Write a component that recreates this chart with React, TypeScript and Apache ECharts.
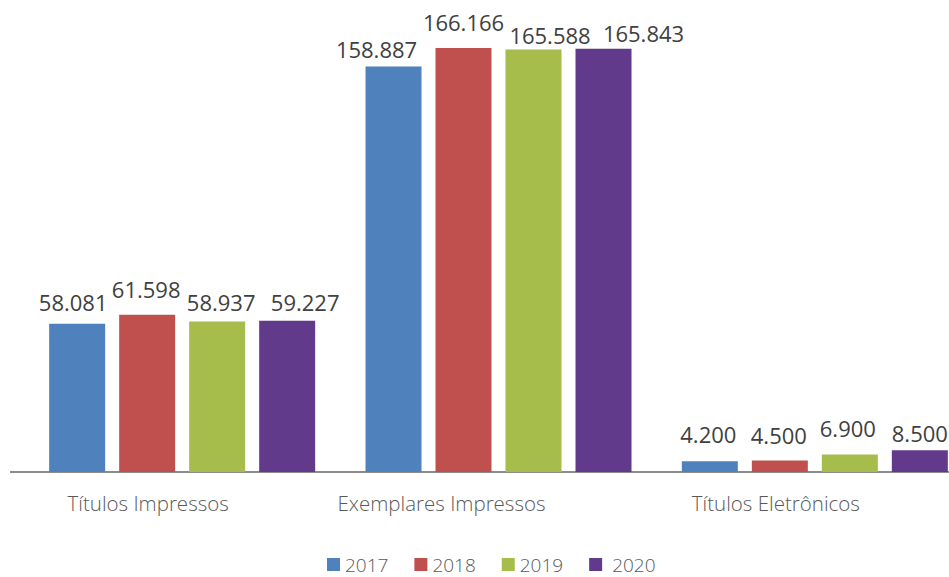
import React, { useEffect, useRef } from "react";
import * as echarts from "echarts";

const categories = ["Títulos Impressos", "Exemplares Impressos", "Títulos Eletrônicos"];
const years = ["2017", "2018", "2019", "2020"];
const v2017 = [58.081, 158.887, 4.2];
const v2018 = [61.598, 166.166, 4.5];
const v2019 = [58.937, 165.588, 6.9];
const v2020 = [59.227, 165.843, 8.5];
const colors = ["#4F81BD", "#C0504D", "#A6BC4B", "#613A8C"];
const labelShift = [68, 114, 78];
// manual data-label nudges (as placed in the original chart)
const labelDx = [
  [-4, -17, -1.5],
  [-1, 0, -1],
  [4, 16.5, -2],
  [18, 40, 0],
];
const labelDy = [
  [-5, -1, -9.8],
  [-9.3, -8.9, -9],
  [-2.6, 2.6, -8.9],
  [-1.9, 0.7, 0],
];

export default function App() {
  const ref = useRef<HTMLDivElement>(null);
  useEffect(() => {
    if (!ref.current) return;
    const chart = echarts.init(ref.current, undefined, { renderer: "svg" });
    const seriesData = [v2017, v2018, v2019, v2020];
    chart.setOption({
      animation: false,
      backgroundColor: "#ffffff",
      grid: { left: 24, top: 12.7, width: 949, height: 459.3 },
      legend: {
        data: years.map((y, i) =>
          i === years.length - 1 ? { name: y, textStyle: { padding: [0, 0, 0, 5] } } : { name: y }
        ),
        left: 327,
        top: 555,
        padding: 0,
        icon: "rect",
        itemWidth: 13,
        itemHeight: 13,
        itemGap: 26,
        itemStyle: { borderWidth: 0 },
        textStyle: { fontFamily: "Open Sans", fontWeight: 300, fontSize: 19, lineHeight: 18, color: "#595959" },
      },
      xAxis: {
        type: "category",
        data: categories.map((c, i) => ({
          value: c,
          textStyle: { padding: [0, labelShift[i], 0, 0] },
        })),
        axisLine: { show: true, lineStyle: { color: "#8c8c8c", width: 2 } },
        axisTick: { show: false },
        axisLabel: {
          fontFamily: "Open Sans",
          fontWeight: 300,
          fontSize: 20.5,
          color: "#595959",
          margin: 20,
          interval: 0,
        },
      },
      yAxis: { type: "value", min: 0, max: 180, show: false, splitLine: { show: false } },
      graphic: [
        { type: "line", shape: { x1: 10, y1: 472, x2: 25, y2: 472 }, style: { stroke: "#8c8c8c", lineWidth: 2 } },
      ],
      series: years.map((y, i) => ({
        name: y,
        type: "bar",
        data: seriesData[i].map((v, j) => ({
          value: v,
          label: { offset: [labelDx[i][j], labelDy[i][j]] },
        })),
        barWidth: 56,
        barGap: "25%",
        itemStyle: { color: colors[i] },
        label: {
          show: true,
          position: "top",
          distance: 6,
          fontFamily: "Open Sans",
          fontSize: 22,
          lineHeight: 22,
          color: "#404040",
          formatter: (p: any) => Number(p.value).toFixed(3),
        },
      })),
    });
    return () => chart.dispose();
  }, []);
  return (
    <div style={{ position: "fixed", left: 0, top: 0, width: 949, height: 577, overflow: "hidden", background: "#fff" }}>
      <div ref={ref} style={{ width: 973, height: 577 }} />
    </div>
  );
}
